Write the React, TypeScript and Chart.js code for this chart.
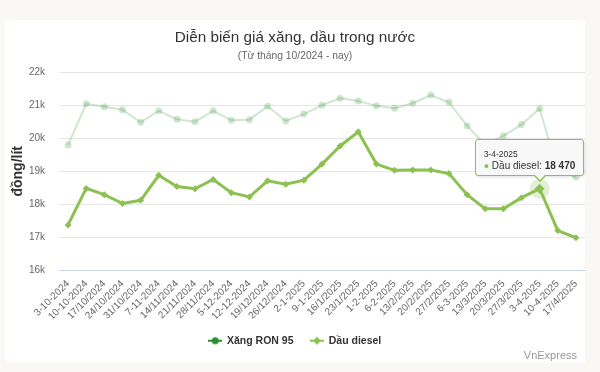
import React, { useEffect, useRef } from "react";
import { Chart, registerables } from "chart.js";

Chart.register(...registerables);
Chart.defaults.font.family = "'Liberation Sans', Arial, Helvetica, sans-serif";

// ---- Data ----
const categories = [
  "3-10-2024", "10-10-2024", "17/10/2024", "24/10/2024", "31/10/2024",
  "7-11-2024", "14/11/2024", "21/11/2024", "28/11/2024", "5-12-2024",
  "12-12-2024", "19/12/2024", "26/12/2024", "2-1-2025", "9-1-2025",
  "16/1/2025", "23/1/2025", "1-2-2025", "6-2-2025", "13/2/2025",
  "20/2/2025", "27/2/2025", "6-3-2025", "13/3/2025", "20/3/2025",
  "27/3/2025", "3-4-2025", "10-4-2025", "17/4/2025",
];
const ron95 = [
  19800, 21050, 20960, 20870, 20490, 20840, 20580, 20510, 20840, 20550,
  20570, 20980, 20530, 20740, 21010, 21220, 21140, 20990, 20920, 21070,
  21320, 21100, 20380, 19820, 20080, 20420, 20910, 19000, 18830,
];
const diesel = [
  17370, 18480, 18290, 18020, 18120, 18880, 18540, 18470, 18750, 18350,
  18220, 18710, 18610, 18730, 19220, 19770, 20200, 19220, 19030, 19040,
  19040, 18930, 18290, 17860, 17860, 18200, 18470, 17200, 16980,
];
const seriesNames = ["Xăng RON 95", "Dầu diesel"];
const yMin = 16000;
const yMax = 22000;
const yStep = 1000;
const titleText = "Diễn biến giá xăng, dầu trong nước";
const subtitleText = "(Từ tháng 10/2024 - nay)";
const yAxisTitle = "đồng/lít";
const creditText = "VnExpress";
const activeCategory = "3-4-2025";
const activeSeries = 1;

// ---- Styles ----
const RON_COLOR = "#2d8c2d";
const RON_FADED = "rgba(45,140,45,0.22)";
const DIESEL_COLOR = "#8cc152";
const FONT = "'Liberation Sans', Arial, Helvetica, sans-serif";

const fmt = (v: number) => String(Math.round(v)).replace(/\B(?=(\d{3})+(?!\d))/g, " ");

function makeLegendIcon(color: string, marker: "circle" | "diamond") {
  const c = document.createElement("canvas");
  c.width = 14;
  c.height = 10;
  const ctx = c.getContext("2d")!;
  ctx.strokeStyle = color;
  ctx.lineWidth = 2;
  ctx.beginPath();
  ctx.moveTo(0, 5);
  ctx.lineTo(14, 5);
  ctx.stroke();
  ctx.fillStyle = color;
  ctx.beginPath();
  if (marker === "circle") {
    ctx.arc(7, 5, 3.5, 0, Math.PI * 2);
  } else {
    ctx.moveTo(7, 1);
    ctx.lineTo(11, 5);
    ctx.lineTo(7, 9);
    ctx.lineTo(3, 5);
    ctx.closePath();
  }
  ctx.fill();
  return c;
}

export default function App() {
  const canvasRef = useRef<HTMLCanvasElement | null>(null);
  const tipRef = useRef<HTMLDivElement | null>(null);
  const tipTitleRef = useRef<HTMLDivElement | null>(null);
  const tipDotRef = useRef<HTMLSpanElement | null>(null);
  const tipNameRef = useRef<HTMLSpanElement | null>(null);
  const tipValueRef = useRef<HTMLSpanElement | null>(null);

  useEffect(() => {
    const canvas = canvasRef.current;
    if (!canvas) return;
    const icons = [makeLegendIcon(RON_COLOR, "circle"), makeLegendIcon(DIESEL_COLOR, "diamond")];
    const legendColors = [RON_COLOR, DIESEL_COLOR];

    const haloPlugin = {
      id: "halo",
      beforeDatasetDraw(chart: any, args: any) {
        if (args.index !== activeSeries) return;
        const ctx = chart.ctx;
        chart.getActiveElements().forEach((a: any) => {
          if (a.datasetIndex !== activeSeries) return;
          ctx.save();
          ctx.beginPath();
          ctx.arc(a.element.x, a.element.y, 10, 0, Math.PI * 2);
          ctx.fillStyle = "rgba(140,193,82,0.25)";
          ctx.fill();
          ctx.restore();
        });
      },
    };

    const creditPlugin = {
      id: "credit",
      afterDraw(chart: any) {
        const ctx = chart.ctx;
        ctx.save();
        ctx.font = `11px ${FONT}`;
        ctx.fillStyle = "#999999";
        ctx.textAlign = "right";
        ctx.textBaseline = "middle";
        ctx.fillText(creditText, 577, 356);
        ctx.restore();
      },
    };

    const chart = new Chart(canvas, {
      type: "line",
      data: {
        labels: categories,
        datasets: [
          {
            label: seriesNames[0],
            data: ron95,
            borderColor: RON_FADED,
            backgroundColor: RON_FADED,
            borderWidth: 2,
            pointStyle: "circle",
            pointRadius: 3.5,
            pointBorderWidth: 0,
            pointBackgroundColor: RON_FADED,
            pointHoverRadius: 3.5,
            tension: 0,
          },
          {
            label: seriesNames[1],
            data: diesel,
            borderColor: DIESEL_COLOR,
            backgroundColor: DIESEL_COLOR,
            borderWidth: 3,
            pointStyle: "rectRot",
            pointRadius: 3.5,
            pointBorderWidth: 0,
            pointBackgroundColor: DIESEL_COLOR,
            pointHoverRadius: 5,
            pointHoverBorderWidth: 0,
            pointHoverBackgroundColor: DIESEL_COLOR,
            tension: 0,
          },
        ],
      },
      options: {
        responsive: false,
        devicePixelRatio: 1,
        animation: false,
        events: [],
        layout: { padding: { left: 5, right: 15, top: 20, bottom: 16 } },
        scales: {
          x: {
            type: "category",
            offset: true,
            grid: { display: false, drawTicks: false },
            border: { display: true, color: "#ccd6eb", width: 1 },
            ticks: {
              autoSkip: false,
              maxRotation: 45,
              minRotation: 45,
              padding: 8,
              color: "#666666",
              font: { size: 10 },
            },
            afterFit: (s: any) => {
              s.height = 48.5;
            },
          },
          y: {
            min: yMin,
            max: yMax,
            grid: { color: "#e6e6e6", lineWidth: 1, drawTicks: false },
            border: { display: false },
            ticks: {
              stepSize: yStep,
              padding: 14,
              color: "#666666",
              font: { size: 10 },
              callback: (v: any) => `${Number(v) / 1000}k`,
            },
            title: {
              display: true,
              text: yAxisTitle,
              color: "#333333",
              font: { size: 14, weight: "bold" },
              padding: { top: 5, bottom: 4 },
            },
            afterFit: (s: any) => {
              s.width = 54;
            },
          },
        },
        plugins: {
          title: {
            display: true,
            text: titleText,
            color: "#333333",
            font: { size: 15.3, weight: "normal" },
            padding: { top: 8.8, bottom: 0 },
          },
          subtitle: {
            display: true,
            text: subtitleText,
            color: "#666666",
            font: { size: 10.3, weight: "normal" },
            padding: { top: 3.1, bottom: 10 },
          },
          legend: {
            display: true,
            position: "bottom",
            labels: {
              usePointStyle: true,
              pointStyleWidth: 13,
              padding: 17,
              color: "#333333",
              font: { size: 10.5, weight: "bold" },
              generateLabels: (ch: any) =>
                ch.data.datasets.map((ds: any, i: number) => ({
                  text: ds.label,
                  fillStyle: legendColors[i],
                  strokeStyle: legendColors[i],
                  fontColor: "#333333",
                  lineWidth: 0,
                  hidden: false,
                  datasetIndex: i,
                  pointStyle: icons[i],
                })),
            },
          },
          tooltip: {
            enabled: false,
            external: ({ chart: ch, tooltip }: any) => {
              const el = tipRef.current;
              if (!el) return;
              if (tooltip.opacity === 0 || !tooltip.dataPoints || !tooltip.dataPoints.length) {
                el.style.display = "none";
                return;
              }
              const dp = tooltip.dataPoints[0];
              el.style.display = "block";
              el.style.left = `${ch.canvas.offsetLeft + tooltip.caretX - 65}px`;
              el.style.top = `${ch.canvas.offsetTop + tooltip.caretY - 50}px`;
              if (tipTitleRef.current) tipTitleRef.current.textContent = dp.label;
              if (tipDotRef.current) tipDotRef.current.style.color = legendColors[dp.datasetIndex];
              if (tipNameRef.current) tipNameRef.current.textContent = `${dp.dataset.label}: `;
              if (tipValueRef.current) tipValueRef.current.textContent = fmt(dp.parsed.y);
            },
          },
        },
      } as any,
      plugins: [haloPlugin, creditPlugin],
    });

    const idx = categories.indexOf(activeCategory);
    const active = [{ datasetIndex: activeSeries, index: idx }];
    chart.setActiveElements(active);
    chart.tooltip!.setActiveElements(active, { x: 0, y: 0 });
    chart.update();

    return () => {
      chart.destroy();
    };
  }, []);

  return (
    <div
      style={{
        position: "fixed",
        left: 0,
        top: 0,
        width: 600,
        height: 372,
        background: "#f9f8f4",
        overflow: "hidden",
        fontFamily: FONT,
      }}
    >
      <div style={{ position: "absolute", left: 5, top: 20, width: 580, height: 342, background: "#ffffff" }} />
      <canvas
        ref={canvasRef}
        width={600}
        height={372}
        style={{ position: "absolute", left: 0, top: 0, width: 600, height: 372 }}
      />
      <div
        ref={tipRef}
        style={{
          position: "absolute",
          display: "none",
          background: "#f8f8f8",
          border: `1px solid ${DIESEL_COLOR}`,
          borderRadius: 3,
          padding: "8px 8px 3px 8px",
          whiteSpace: "nowrap",
          color: "#333333",
          boxShadow: "1px 1px 3px rgba(0,0,0,0.12)",
          pointerEvents: "none",
        }}
      >
        <div ref={tipTitleRef} style={{ fontSize: 8.5, lineHeight: "12px" }} />
        <div style={{ fontSize: 10, lineHeight: "12px" }}>
          <span ref={tipDotRef} style={{ fontSize: 9 }}>●</span>{" "}
          <span ref={tipNameRef} />
          <span ref={tipValueRef} style={{ fontWeight: "bold" }} />
        </div>
        <div
          style={{
            position: "absolute",
            left: 57,
            top: "100%",
            width: 0,
            height: 0,
            borderLeft: "7px solid transparent",
            borderRight: "7px solid transparent",
            borderTop: `7px solid ${DIESEL_COLOR}`,
          }}
        />
        <div
          style={{
            position: "absolute",
            left: 58,
            top: "calc(100% - 0.5px)",
            width: 0,
            height: 0,
            borderLeft: "6px solid transparent",
            borderRight: "6px solid transparent",
            borderTop: "6px solid #f8f8f8",
          }}
        />
      </div>
    </div>
  );
}
